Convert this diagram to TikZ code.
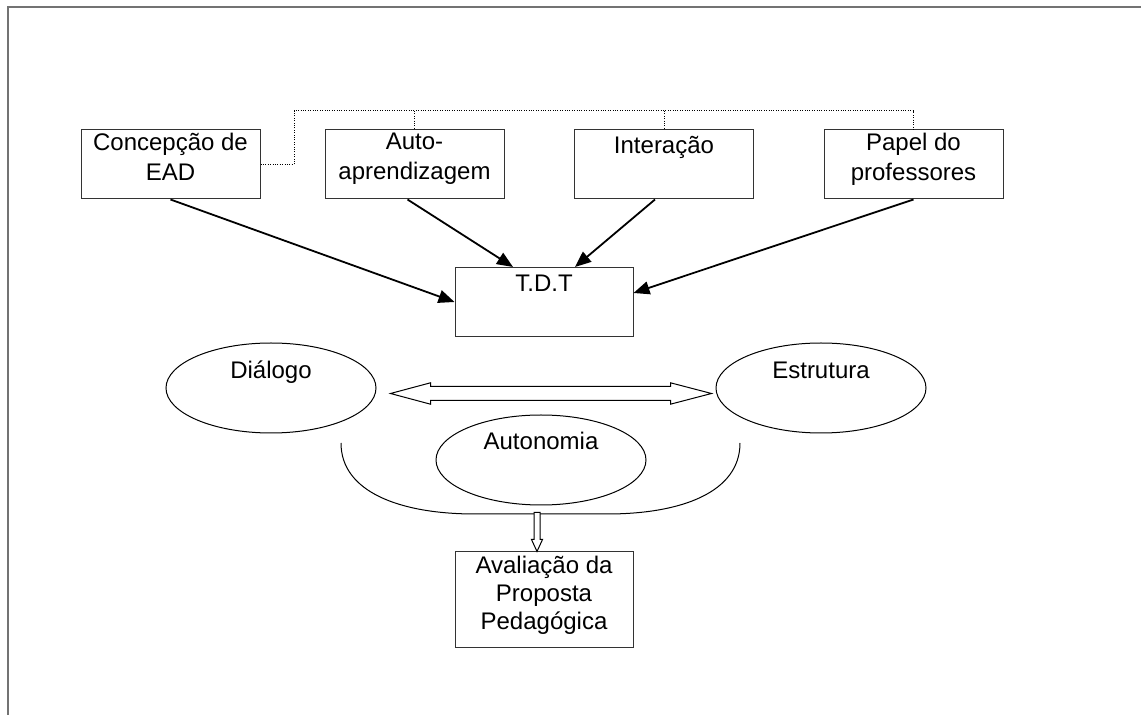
\documentclass[tikz,border=0pt]{standalone}
\usepackage{fontspec}
\setmainfont{Liberation Sans}
\usetikzlibrary{arrows.meta,calc,shapes.geometric}

\tikzset{
    caixa/.style={draw=black!80, line width=0.5pt, minimum width=89.5pt, minimum height=34.5pt, inner sep=0pt},
    oval/.style={draw, ellipse, line width=0.5pt, minimum width=105pt, minimum height=45pt, inner sep=0pt},
    rotulo/.style={font=\fontsize{12}{14}\selectfont, align=center, inner sep=0pt, execute at begin node=\strut},
    rotulo topo/.style={rotulo, font=\fontsize{12}{15}\selectfont, anchor=north},
    seta/.style={line width=0.9pt, -{Triangle[length=8pt,width=6.5pt]}},
    pontilhado/.style={line width=0.5pt, dash pattern=on 0.5pt off 0.7pt},
    oco/.style={draw, line width=0.5pt, fill=white},
}

\begin{document}
\begin{tikzpicture}[x=0.5pt, y=-0.5pt]
    \useasboundingbox (0,0) rectangle (1141,715);

    % moldura
    \draw[black!55, line width=1pt] (7.5,715) -- (7.5,7.5) -- (1141,7.5);

    % caixas
    \node[caixa] (ead)   at (170.5,164.5) {};
    \node[caixa] (auto)  at (414.5,164.5) {};
    \node[caixa] (inter) at (664,164.5) {};
    \node[caixa] (papel) at (913.5,164.5) {};
    \node[caixa, minimum width=89pt] (tdt) at (544,302) {};
    \node[caixa, minimum width=89pt, minimum height=48pt] (aval) at (544,600) {};

    \node[rotulo topo] (ead-t)   at ([yshift=-1.5pt]ead.north)   {Concepção de\\EAD};
    \node[rotulo topo] (auto-t)  at ([yshift=-1.5pt]auto.north)  {Auto-\\aprendizagem};
    \node[rotulo topo] (inter-t) at ([yshift=-1.5pt]inter.north) {Interação};
    \node[rotulo topo] (papel-t) at ([yshift=-1.5pt]papel.north) {Papel do\\professores};
    \node[rotulo, anchor=north] (tdt-t)  at ([yshift=-2.4pt]tdt.north)  {T.D.T};
    \node[rotulo, anchor=north] (aval-t) at ([yshift=-2pt]aval.north)   {Avaliação da\\Proposta\\Pedagógica};

    % ligação pontilhada
    \coordinate (dt) at (294,111);
    \draw[pontilhado] (ead.east) -| (dt) -- (dt -| papel.north) -- (papel.north);
    \draw[pontilhado] (dt -| auto.north) -- (auto.north);
    \draw[pontilhado] (dt -| inter.north) -- (inter.north);

    \draw[seta] (ead.south) -- (tdt.west);
    \draw[seta] ([xshift=-3.5pt]auto.south) -- ([xshift=-15.5pt]tdt.north);
    \draw[seta] ([xshift=-4.5pt]inter.south) -- ([xshift=15.5pt]tdt.north);
    \draw[seta] (papel.south) -- ([yshift=4.5pt]tdt.east);

    % elipses
    \node[oval] (dial)  at (271,388) {};
    \node[oval] (estr)  at (821,388) {};
    \node[oval] (auton) at (541,460) {};

    \node[rotulo, anchor=base] (dial-t)  at ([yshift=4.5pt]dial.center)  {Diálogo};
    \node[rotulo, anchor=base] (estr-t)  at ([yshift=4.5pt]estr.center)  {Estrutura};
    \node[rotulo, anchor=base] (auton-t) at ([yshift=5pt]auton.center)   {Autonomia};

    % seta dupla
    \coordinate (ea) at ([xshift=7pt, yshift=-2.75pt]dial.east);
    \coordinate (da) at ([xshift=-2pt, yshift=-2.75pt]estr.west);
    \draw[oco] (ea) -- ++(40,-10.7) -- ++(0,3.7) -- ($(da)+(-41,-7)$) -- ++(0,-3.7)
        -- (da) -- ++(-41,10.7) -- ++(0,-3.7) -- ($(ea)+(40,7)$) -- ++(0,3.7) -- cycle;

    % curva por baixo
    \draw[line width=0.5pt] (341,443) .. controls (341,492) and (400,514) .. (475,514)
        -- (607,514) .. controls (682,514) and (740,492) .. (740,443);

    % seta para baixo
    \coordinate (ba) at ([xshift=-3.5pt]aval.north);
    \draw[oco] (ba) -- ++(-5.5,-12) -- ++(2.5,0) -- ++(0,-27) -- ++(6,0) -- ++(0,27) -- ++(2.5,0) -- cycle;
\end{tikzpicture}
\end{document}
